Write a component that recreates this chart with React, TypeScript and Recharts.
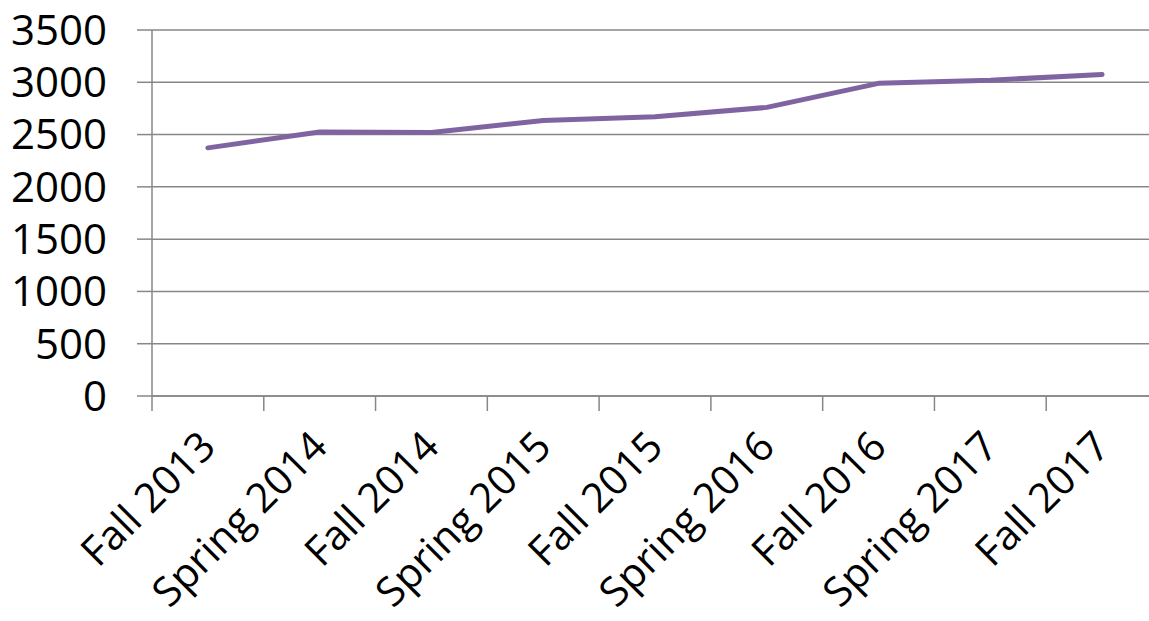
import { LineChart, Line, XAxis, YAxis, CartesianGrid } from "recharts";

const categories = [
  "Fall 2013", "Spring 2014", "Fall 2014", "Spring 2015", "Fall 2015",
  "Spring 2016", "Fall 2016", "Spring 2017", "Fall 2017",
];
const enrollment = [2373, 2525, 2520, 2635, 2670, 2760, 2990, 3020, 3075];
const yTicks = [0, 500, 1000, 1500, 2000, 2500, 3000, 3500];

const GRID = "#878787";
const FONT = "'Open Sans', sans-serif";

// points sit in the middle of each category band; ticks at band edges
const data = categories.map((name, i) => ({ name, x: i + 0.5, value: enrollment[i] }));
const xTicks: number[] = [];
for (let i = 0; i <= categories.length * 2; i++) xTicks.push(i / 2);

function CategoryTick(props: any) {
  const { x, y, payload } = props;
  const v = payload.value as number;
  if (Number.isInteger(v)) {
    return <line x1={x} x2={x} y1={y} y2={y + 15} stroke={GRID} strokeWidth={1.5} />;
  }
  const label = categories[Math.floor(v)];
  const tx = x + 10;
  const ty = y + 53;
  return (
    <text
      x={tx}
      y={ty}
      textAnchor="end"
      transform={`rotate(-45 ${tx} ${ty})`}
      fontFamily={FONT}
      fontSize={41}
      fill="#000"
    >
      {label}
    </text>
  );
}

export default function App() {
  return (
    <div style={{ position: "absolute", left: 0, top: 0, width: 1149, height: 621, overflow: "hidden", background: "#fff" }}>
      <LineChart width={1160} height={621} data={data} margin={{ top: 30, right: 2, left: 0, bottom: 0 }}>
        <CartesianGrid vertical={false} stroke={GRID} strokeWidth={1.5} />
        <XAxis
          dataKey="x"
          type="number"
          domain={[0, 9]}
          ticks={xTicks}
          interval={0}
          height={225}
          tickLine={false}
          tickSize={0}
          tickMargin={0}
          axisLine={{ stroke: GRID, strokeWidth: 1.5 }}
          tick={<CategoryTick />}
        />
        <YAxis
          width={152}
          domain={[0, 3500]}
          ticks={yTicks}
          interval={0}
          tickSize={15}
          tickMargin={30}
          tickLine={{ stroke: GRID, strokeWidth: 1.5 }}
          axisLine={{ stroke: GRID, strokeWidth: 1.5 }}
          tick={{ fill: "#000", fontSize: 42, fontFamily: FONT }}
        />
        <Line
          dataKey="value"
          stroke="#8064A2"
          strokeWidth={5}
          strokeLinecap="round"
          strokeLinejoin="round"
          dot={false}
          isAnimationActive={false}
        />
      </LineChart>
    </div>
  );
}
